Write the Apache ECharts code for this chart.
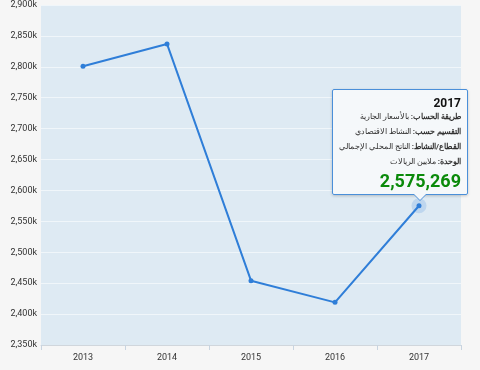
<!DOCTYPE html>
<html><head><meta charset="utf-8">
<script src="https://cdn.jsdelivr.net/npm/echarts@6/dist/echarts.min.js"></script>
<style>html,body{margin:0;padding:0;background:#f6f6f6;}#c{width:480px;height:370px;}</style>
</head><body><div id="c"></div>
<script>
const categories = ['2013','2014','2015','2016','2017'];
const values = [2801000, 2837000, 2454000, 2419000, 2575269];
const yTicks = {min: 2350000, max: 2900000, interval: 50000};
const tipLines = [
  ['طريقة الحساب:', 'بالأسعار الجارية'],
  ['التقسيم حسب:', 'النشاط الاقتصادي'],
  ['القطاع/النشاط:', 'الناتج المحلي الإجمالي'],
  ['الوحدة:', 'ملايين الريالات']
];
const chart = echarts.init(document.getElementById('c'));
const lineColor = '#2f7ed8';
chart.setOption({
  backgroundColor: '#f6f6f6',
  animation: false,
  grid: {left: 41, right: 19, top: 5, bottom: 25, show: true, backgroundColor: '#deeaf3', borderWidth: 0},
  xAxis: {
    type: 'category', data: categories,
    axisLine: {lineStyle: {color: '#d0d6dc'}},
    axisTick: {show: true, length: 5, lineStyle: {color: '#c8d4e0'}},
    axisLabel: {color: '#333', fontSize: 9, fontFamily: 'Roboto', margin: 8}
  },
  yAxis: {
    type: 'value', min: yTicks.min, max: yTicks.max, interval: yTicks.interval,
    axisLine: {show: false}, axisTick: {show: false},
    splitLine: {lineStyle: {color: 'rgba(255,255,255,0.55)', width: 1}},
    axisLabel: {color: '#333', fontSize: 9, fontFamily: 'Roboto', margin: 4,
      formatter: v => (v/1000).toLocaleString('en-US') + 'k'}
  },
  tooltip: {
    trigger: 'item', alwaysShowContent: true, triggerOn: 'none',
    backgroundColor: 'rgba(246,248,250,0.97)', borderColor: '#4a8fd9', borderWidth: 1,
    padding: [6, 6, 3, 6],
    extraCssText: 'border-radius:2px;box-shadow:0 1px 3px rgba(0,0,0,0.2);overflow:visible;',
    position: function (point, params, dom, rect, size) {
      return [point[0] - 87, point[1] - size.contentSize[1] - 11];
    },
    formatter: function (p) {
      let h = '<div style="width:122px;direction:rtl;text-align:right;font-family:Roboto,\'Noto Sans\',sans-serif;color:#333;">';
      h += '<div style="font-weight:bold;font-size:12px;line-height:14px;color:#111;margin-bottom:1px;">' + p.name + '</div>';
      tipLines.forEach(l => {
        h += '<div style="font-size:8px;line-height:11px;margin-bottom:4px;white-space:nowrap;"><b>' + l[0] + '</b> ' + l[1] + '</div>';
      });
      h += '<div style="direction:ltr;font-weight:bold;font-size:18px;color:#0a8a0a;line-height:20px;">' + p.value.toLocaleString('en-US') + '</div>';
      h += '</div>';
      h += '<div style="position:absolute;left:80px;bottom:-7px;width:0;height:0;border-left:7px solid transparent;border-right:7px solid transparent;border-top:7px solid #4a8fd9;"></div>';
      h += '<div style="position:absolute;left:81px;bottom:-5.5px;width:0;height:0;border-left:6px solid transparent;border-right:6px solid transparent;border-top:6px solid #f6f8fa;"></div>';
      return h;
    }
  },
  series: [
    {
      type: 'scatter', data: values.map((v, i) => i === values.length - 1 ? v : null),
      symbolSize: 15, itemStyle: {color: 'rgba(47,126,216,0.22)'}, silent: true, z: 1,
      tooltip: {show: false}
    },
    {
      type: 'line', data: values, z: 3,
      lineStyle: {color: lineColor, width: 2},
      itemStyle: {color: lineColor},
      symbol: 'circle', symbolSize: 5, showSymbol: true,
      emphasis: {disabled: true}
    }
  ]
});
chart.dispatchAction({type: 'showTip', seriesIndex: 1, dataIndex: 4});
</script></body></html>
